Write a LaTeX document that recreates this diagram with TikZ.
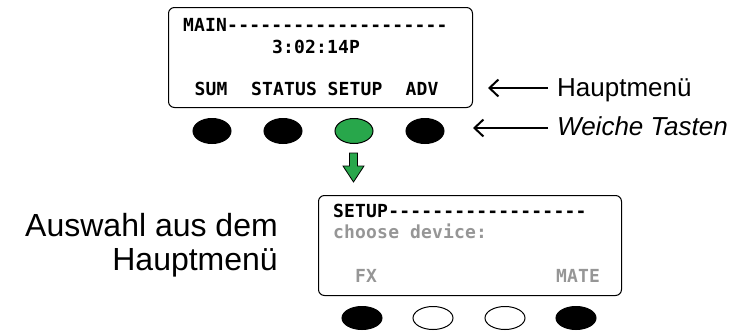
\documentclass[tikz,border=0pt]{standalone}
\usepackage{fontspec}
\setmainfont{Liberation Sans}
\newfontfamily\lcdfont[LetterSpace=1]{DejaVu Sans Mono}
\usetikzlibrary{shapes.geometric,arrows.meta}
\definecolor{keygreen}{RGB}{40,167,75}
\definecolor{lcdgray}{RGB}{150,150,150}
\tikzset{
  screen/.style={draw=black,line width=1pt,rounded corners=6pt},
  lcd/.style={inner sep=0pt,font=\lcdfont\bfseries\fontsize{18}{20}\selectfont},
  lcdgrey/.style={lcd,text=lcdgray},
  key/.style={ellipse,draw=black,line width=1pt,inner sep=0pt,minimum width=38pt,minimum height=25pt},
  keyb/.style={ellipse,draw=black,line width=1pt,inner sep=0pt,minimum width=40pt,minimum height=23pt},
  label/.style={inner sep=0pt,font=\fontsize{26}{30}\selectfont},
  biglabel/.style={inner sep=0pt,font=\fontsize{32}{38}\selectfont},
  pointer/.style={line width=2pt,-{Straight Barb[length=9pt,width=17pt]}}
}
\begin{document}
\begin{tikzpicture}[x=1pt,y=-1pt]
\useasboundingbox (0,0) rectangle (742,332);
% top screen
\node[screen,minimum width=304pt,minimum height=100pt,anchor=north west] (scr1) at (168,7) {};
\node[lcd,anchor=base west] (mainline) at (183,31) {MAIN--------------------};
\node[lcd,anchor=base] (time) at (316,53) {3:02:14P};
\node[lcd,anchor=base] (sum) at (211,95) {SUM};
\node[lcd,anchor=base] (status) at (284,95) {STATUS};
\node[lcd,anchor=base] (setup) at (355,95) {SETUP};
\node[lcd,anchor=base] (adv) at (422,95) {ADV};
% top keys
\node[key,fill=black] (k1) at (212,131) {};
\node[key,fill=black] (k2) at (283,131) {};
\node[key,fill=keygreen] (k3) at (354,131) {};
\node[key,fill=black] (k4) at (425,131) {};
% green arrow
\draw[fill=keygreen,draw=black,line width=0.8pt,line join=miter]
  (349.5,153) -- (357.5,153) -- (357.5,166) -- (364,166) -- (353.5,182) -- (343,166) -- (349.5,166) -- cycle;
% bottom screen
\node[screen,minimum width=303pt,minimum height=100pt,anchor=north west] (scr2) at (318,195) {};
\node[lcd,anchor=base west] (setupline) at (333,217) {SETUP------------------};
\node[lcdgrey,anchor=base west] (choose) at (333,238) {choose device:};
\node[lcdgrey,anchor=base] (fx) at (366,282) {FX};
\node[lcdgrey,anchor=base] (mate) at (578,282) {MATE};
% bottom keys
\node[keyb,fill=black] (b1) at (362,318) {};
\node[keyb,fill=white] (b2) at (433,318) {};
\node[keyb,fill=white] (b3) at (505,318) {};
\node[keyb,fill=black] (b4) at (576,318) {};
% right labels
\node[label,anchor=base west] (haupt) at (557,96) {Hauptmenü};
\node[label,anchor=base west] (weich) at (557,135) {\itshape Weiche Tasten};
\coordinate (a1s) at (548,88);
\coordinate (a1e) at (488,88);
\coordinate (a2s) at (548,128);
\coordinate (a2e) at (473,128);
\draw[pointer] (a1s) -- (a1e);
\draw[pointer] (a2s) -- (a2e);
% left label
\node[biglabel,anchor=base east] (left1) at (278,236) {Auswahl aus dem};
\node[biglabel,anchor=base east] (left2) at (278,270) {Hauptmenü};
\end{tikzpicture}
\end{document}
